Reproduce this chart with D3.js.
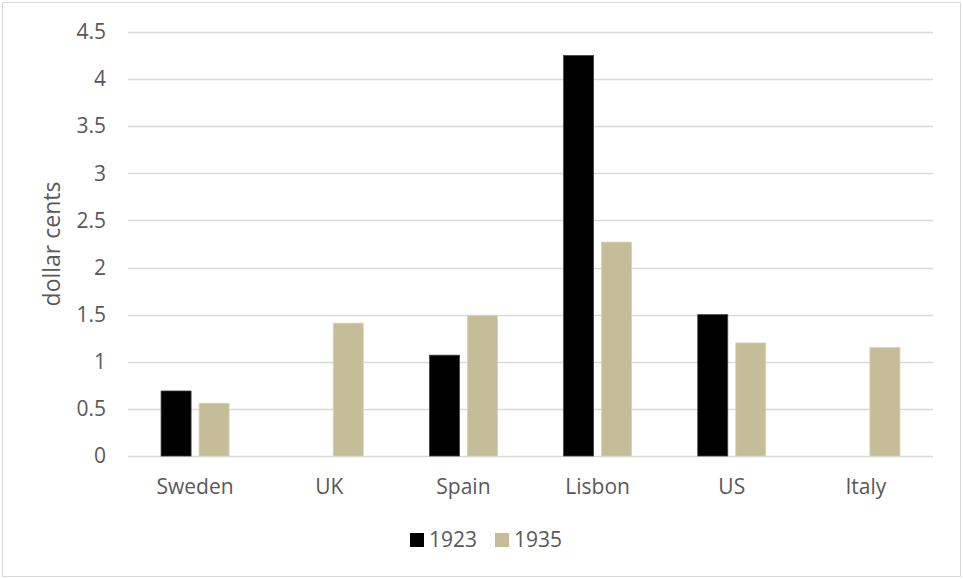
<!DOCTYPE html>
<html>
<head>
<meta charset="utf-8">
<script src="https://cdn.jsdelivr.net/npm/d3@7"></script>
<style>
  body { margin: 0; padding: 0; background: #fff; }
  text { font-family: "Open Sans", "Liberation Sans", sans-serif; fill: #595959; }
</style>
</head>
<body>
<div id="main"></div>
<script>
const categories = ['Sweden', 'UK', 'Spain', 'Lisbon', 'US', 'Italy'];
const seriesNames = ['1923', '1935'];
const values1923 = [0.69, null, 1.07, 4.25, 1.5, null];
const values1935 = [0.56, 1.41, 1.49, 2.27, 1.2, 1.15];
const yTicks = [0, 0.5, 1, 1.5, 2, 2.5, 3, 3.5, 4, 4.5];
const colors = ['#000000', '#c4bd97'];

const WIDTH = 963, HEIGHT = 579;
const PLOT = {left: 128, right: 933, top: 32, bottom: 456};
const FONTSIZE = 21;

const svg = d3.select('#main').append('svg')
    .attr('width', WIDTH)
    .attr('height', HEIGHT);

svg.append('rect')
    .attr('x', 2.5).attr('y', 2.5)
    .attr('width', 958).attr('height', 574)
    .attr('fill', '#fff')
    .attr('stroke', '#d9d9d9')
    .attr('stroke-width', 1);

const x0 = d3.scaleBand().domain(categories).range([PLOT.left, PLOT.right]);
const groupW = 68;
const x1 = d3.scaleBand().domain(seriesNames)
    .range([(x0.bandwidth() - groupW) / 2, (x0.bandwidth() + groupW) / 2])
    .paddingInner(0.2105);
const y = d3.scaleLinear().domain([0, 4.5]).range([PLOT.bottom, PLOT.top]);

// gridlines
svg.append('g')
    .selectAll('line')
    .data(yTicks)
    .enter().append('line')
    .attr('x1', PLOT.left).attr('x2', PLOT.right)
    .attr('y1', (d) => Math.round(y(d)) + 0.5)
    .attr('y2', (d) => Math.round(y(d)) + 0.5)
    .attr('stroke', '#d9d9d9')
    .attr('stroke-width', 1.3);

// y axis
const axisY = d3.axisLeft(y).tickValues(yTicks).tickSize(0).tickPadding(0).tickFormat(d3.format(''));
const gy = svg.append('g')
    .attr('transform', `translate(106, 0)`)
    .call(axisY);
gy.select('.domain').remove();
gy.selectAll('text').attr('font-size', FONTSIZE).attr('fill', '#595959').attr('font-family', '"Open Sans", sans-serif');

// x axis
const axisX = d3.axisBottom(x0).tickSize(0).tickPadding(0);
const gx = svg.append('g')
    .attr('transform', `translate(0, 479)`)
    .call(axisX);
gx.select('.domain').remove();
gx.selectAll('text').attr('font-size', FONTSIZE).attr('fill', '#595959').attr('font-family', '"Open Sans", sans-serif');

// bars
const seriesData = [values1923, values1935];
seriesData.forEach((vals, si) => {
    svg.append('g')
        .selectAll('rect')
        .data(categories.map((c, i) => ({cat: c, value: vals[i]})).filter((d) => d.value !== null))
        .enter().append('rect')
        .attr('x', (d) => x0(d.cat) + x1(seriesNames[si]))
        .attr('y', (d) => y(d.value))
        .attr('width', x1.bandwidth())
        .attr('height', (d) => y(0) - y(d.value))
        .attr('fill', colors[si])
        .attr('stroke', si === 0 ? '#404040' : '#d8d2b4')
        .attr('stroke-width', 0.8);
});

// y axis title
svg.append('text')
    .attr('transform', `translate(60, ${(PLOT.top + PLOT.bottom) / 2}) rotate(-90)`)
    .attr('text-anchor', 'middle')
    .attr('font-size', 23)
    .text('dollar cents');

// legend
const legend = svg.append('g');
const legendX = [410, 495];
seriesNames.forEach((s, i) => {
    legend.append('rect')
        .attr('x', legendX[i]).attr('y', 533)
        .attr('width', 14).attr('height', 14)
        .attr('fill', colors[i]);
    legend.append('text')
        .attr('x', legendX[i] + 19).attr('y', 547)
        .attr('font-size', FONTSIZE)
        .text(s);
});
</script>
</body>
</html>
